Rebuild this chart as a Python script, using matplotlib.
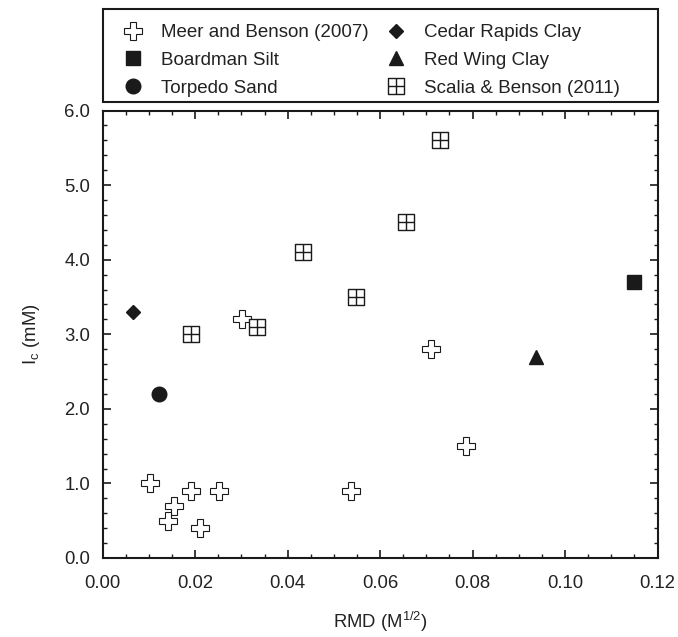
import matplotlib
matplotlib.use("Agg")
import matplotlib.pyplot as plt
from matplotlib.path import Path
from matplotlib.patches import Rectangle
from matplotlib.ticker import MultipleLocator, FormatStrFormatter

plt.rcParams['font.family'] = ['Liberation Sans', 'DejaVu Sans']
plt.rcParams['mathtext.default'] = 'regular'

# Data
meer_x = [0.0102, 0.0154, 0.0141, 0.0192, 0.0251, 0.0210, 0.0536, 0.0301, 0.0711, 0.0785]
meer_y = [1.0, 0.7, 0.5, 0.9, 0.9, 0.4, 0.9, 3.2, 2.8, 1.5]
scalia_x = [0.0192, 0.0333, 0.0730, 0.0657, 0.0433, 0.0547]
scalia_y = [3.0, 3.1, 5.6, 4.5, 4.1, 3.5]
cedar_x = [0.0066]
cedar_y = [3.3]
torpedo_x = [0.0122]
torpedo_y = [2.2]
boardman_x = [0.115]
boardman_y = [3.7]
redwing_x = [0.0938]
redwing_y = [2.7]

W, H = 678, 637
fig = plt.figure(figsize=(W / 100, H / 100), dpi=100)
ax_l, ax_r, ax_t, ax_b = 102.7, 657.5, 110.5, 558
ax = fig.add_axes([ax_l / W, 1 - ax_b / H, (ax_r - ax_l) / W, (ax_b - ax_t) / H])

# custom boxed-plus marker
verts = [(-0.5, -0.5), (0.5, -0.5), (0.5, 0.5), (-0.5, 0.5), (-0.5, -0.5),
         (0, -0.5), (0, 0.5), (-0.5, 0), (0.5, 0)]
codes = [Path.MOVETO, Path.LINETO, Path.LINETO, Path.LINETO, Path.CLOSEPOLY,
         Path.MOVETO, Path.LINETO, Path.MOVETO, Path.LINETO]
boxplus = Path(verts, codes)

k = '#1a1a1a'
tc = '#222222'
FS = 13.3
h_meer, = ax.plot(meer_x, meer_y, ls='none', marker='P', ms=12.5, mfc='white', mec=k, mew=0.8,
                  label='Meer and Benson (2007)')
h_board, = ax.plot(boardman_x, boardman_y, ls='none', marker='s', ms=10.5, mfc=k, mec=k,
                   label='Boardman Silt')
h_torp, = ax.plot(torpedo_x, torpedo_y, ls='none', marker='o', ms=10.5, mfc=k, mec=k,
                  label='Torpedo Sand')
h_cedar, = ax.plot(cedar_x, cedar_y, ls='none', marker='D', ms=7.2, mfc=k, mec=k,
                   label='Cedar Rapids Clay')
h_red, = ax.plot(redwing_x, redwing_y, ls='none', marker='^', ms=10, mfc=k, mec=k,
                 label='Red Wing Clay')
h_scal, = ax.plot(scalia_x, scalia_y, ls='none', marker=boxplus, ms=11, mfc='white', mec=k, mew=1.0,
                  label='Scalia & Benson (2011)')

ax.set_xlim(0, 0.12)
ax.set_ylim(0, 6.0)
ax.xaxis.set_major_locator(MultipleLocator(0.02))
ax.xaxis.set_minor_locator(MultipleLocator(0.005))
ax.yaxis.set_major_locator(MultipleLocator(1.0))
ax.yaxis.set_minor_locator(MultipleLocator(0.2))
ax.xaxis.set_major_formatter(FormatStrFormatter('%.2f'))
ax.yaxis.set_major_formatter(FormatStrFormatter('%.1f'))
ax.tick_params(which='both', direction='in', top=True, right=True, colors=k, labelcolor=tc)
ax.tick_params(which='major', length=6, width=1.2, labelsize=FS)
ax.tick_params(which='minor', length=3, width=1.0)
ax.tick_params(axis='y', which='major', pad=9)
ax.tick_params(axis='x', which='major', pad=12)
for s in ax.spines.values():
    s.set_linewidth(1.5)
    s.set_color(k)

ax.set_xlabel('RMD (M$^{1/2}$)', fontsize=FS, color=tc, labelpad=13)
ax.set_ylabel('I$_c$ (mM)', fontsize=FS, color=tc, labelpad=16)

# legend box
fig.patches.append(Rectangle((ax_l / W, 1 - 101.7 / H), (ax_r - ax_l) / W, (101.7 - 9.3) / H,
                             transform=fig.transFigure, fill=False, edgecolor=k, linewidth=1.5))
handles = [h_meer, h_board, h_torp, h_cedar, h_red, h_scal]
leg = fig.legend(handles=handles, loc='upper left', bbox_to_anchor=(114 / W, 1 - 24 / H),
                 ncol=2, frameon=False, fontsize=13.5, borderpad=0, borderaxespad=0,
                 handlelength=2.0, handletextpad=0.5, columnspacing=0.45, labelspacing=0.57,
                 numpoints=1)
for t in leg.get_texts():
    t.set_color(tc)

fig.savefig('out.png', dpi=100)
